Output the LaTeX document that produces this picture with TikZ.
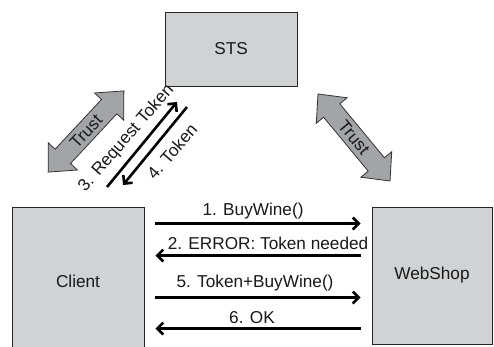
\documentclass[tikz,border=0pt]{standalone}
\usepackage{fontspec}
\setmainfont{Liberation Sans}
\usetikzlibrary{arrows.meta}
\definecolor{boxgray}{HTML}{D1D2D4}
\definecolor{trustgray}{HTML}{A2A4A7}
\begin{document}
\begin{tikzpicture}[x=1pt,y=-1pt,
  every node/.style={font=\fontsize{17.2}{20}\selectfont, text=black!90},
  entity/.style={draw=black!85, line width=0.9pt, fill=boxgray, inner sep=0pt},
  msg/.style={line width=2.6pt, -{Straight Barb[length=6pt,width=12pt]}},
  trust/.style={draw=black!80, line width=0.8pt, fill=trustgray},
  lbl/.style={inner sep=1pt}]
\clip (0,0) rectangle (494,347);
\fill[white] (0,0) rectangle (494,347);
% boxes
\node[entity, minimum width=132pt, minimum height=74pt] (sts) at (231,49) {STS};
\node[entity, minimum width=132pt, minimum height=148pt] (client) at (78,281) {Client};
\node[entity, minimum width=120pt, minimum height=137pt] (webshop) at (432,275.5) {WebShop};
% horizontal messages
\draw[msg] ([xshift=11pt,yshift=-17pt]client.north east) -- ([xshift=-11pt,yshift=-17pt]webshop.north west)
  node[lbl, midway, yshift=12pt, xshift=-5pt] (m1) {1. BuyWine()};
\draw[msg] ([xshift=-11pt,yshift=-49pt]webshop.north west) -- ([xshift=11pt,yshift=-49pt]client.north east)
  node[lbl, midway, yshift=12pt, xshift=10pt] (m2) {2. ERROR: Token needed};
\draw[msg] ([xshift=11pt,yshift=-91pt]client.north east) -- ([xshift=-11pt,yshift=-91pt]webshop.north west)
  node[lbl, midway, yshift=14pt, xshift=-3pt] (m5) {5. Token+BuyWine()};
\draw[msg] ([xshift=-11pt,yshift=-122pt]webshop.north west) -- ([xshift=11pt,yshift=-122pt]client.north east)
  node[lbl, midway, yshift=11pt, xshift=-6pt] (m6) {6. OK};
% diagonal messages
\coordinate (reqA) at (107,187);
\coordinate (reqB) at (177,102);
\coordinate (tokA) at (187,107);
\coordinate (tokB) at (123,185);
\draw[msg] (reqA) -- (reqB);
\draw[msg] (tokA) -- (tokB);
\node[lbl, rotate=49] (m3) at (126.5,138.5) {3. Request Token};
\node[lbl, rotate=49] (m4) at (172,151.5) {4. Token};
% trust arrows
\begin{scope}[shift={(86,131.5)}, rotate=47]
  \draw[trust] (55.5,0) -- (34,20) -- (34,10.5) -- (-34,10.5) -- (-34,20) -- (-55.5,0)
    -- (-34,-20) -- (-34,-10.5) -- (34,-10.5) -- (34,-20) -- cycle;
\end{scope}
\node[lbl, rotate=47] (t1) at (86,131.5) {Trust};
\begin{scope}[shift={(354,137.5)}, rotate=-50.4]
  \draw[trust] (56.5,0) -- (35,20) -- (35,10.5) -- (-35,10.5) -- (-35,20) -- (-56.5,0)
    -- (-35,-20) -- (-35,-10.5) -- (35,-10.5) -- (35,-20) -- cycle;
\end{scope}
\node[lbl, rotate=-50.4] (t2) at (354,137.5) {Trust};
\end{tikzpicture}
\end{document}
